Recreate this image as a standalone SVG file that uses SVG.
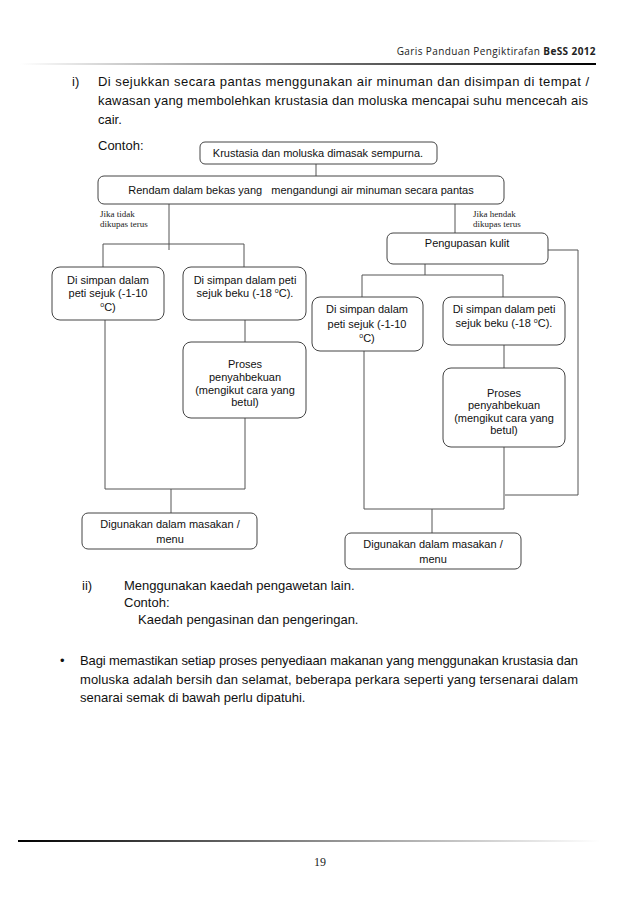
<svg xmlns="http://www.w3.org/2000/svg" width="639" height="903" viewBox="0 0 639 903">
<defs>
<linearGradient id="hdr" x1="0" y1="0" x2="1" y2="0">
<stop offset="0" stop-color="#ffffff"/>
<stop offset="0.3" stop-color="#aaaaaa"/>
<stop offset="1" stop-color="#000000"/>
</linearGradient>
<linearGradient id="ftr" x1="0" y1="0" x2="1" y2="0">
<stop offset="0" stop-color="#000000"/>
<stop offset="0.5" stop-color="#888888"/>
<stop offset="1" stop-color="#ffffff"/>
</linearGradient>
<style>
.box{fill:#ffffff;stroke:#444444;stroke-width:1}
.bt{font-family:"Liberation Sans",Arial,sans-serif;font-size:11px;fill:#111111;text-anchor:middle}
.p{font-family:"Liberation Sans",Arial,sans-serif;font-size:13px;fill:#111111}
.lbl{font-family:"Liberation Serif","DejaVu Serif",serif;font-size:9px;fill:#222222}
.con{fill:none;stroke:#555555;stroke-width:1}
</style>
</defs>
<rect x="0" y="0" width="639" height="903" fill="#ffffff"/>

<!-- header -->
<text x="596" y="55" text-anchor="end" font-family="'Open Sans','Noto Sans',sans-serif" font-size="10" letter-spacing="0.4" fill="#222222">Garis Panduan Pengiktirafan <tspan font-weight="bold">BeSS 2012</tspan></text>
<rect x="20" y="63" width="576" height="2" fill="url(#hdr)"/>

<!-- paragraph i -->
<text class="p" x="72" y="86">i)</text>
<text class="p" x="98" y="86" textLength="491" lengthAdjust="spacing">Di sejukkan secara pantas menggunakan air minuman dan disimpan di tempat /</text>
<text class="p" x="98" y="105" textLength="490" lengthAdjust="spacing">kawasan yang membolehkan krustasia dan moluska mencapai suhu mencecah ais</text>
<text class="p" x="98" y="124">cair.</text>
<text class="p" x="98" y="150">Contoh:</text>

<!-- connectors -->
<g id="connectors" class="con">
<path d="M316,164 V176"/>
<path d="M169,204 V250 M103,244 H244 M103,244 V267 M244,244 V267"/>
<path d="M455,204 V233"/>
<path d="M425,264 V275 M362,275 H503 M362,275 V297 M503,275 V297"/>
<path d="M548,250 H578 V495 H505"/>
<path d="M105,320 V489 M245,320 V342 M245,418 V489 M105,489 H245 M171,489 V513"/>
<path d="M364,351 V509 M504,345 V368 M504,447 V509 M364,509 H504 M432,509 V533"/>
</g>

<g id="n-krustasia">
<rect class="box" x="200" y="142" width="237" height="22" rx="5"/>
<text class="bt" x="318" y="157">Krustasia dan moluska dimasak sempurna.</text>
</g>

<g id="n-rendam">
<rect class="box" x="98" y="176" width="406" height="28" rx="6"/>
<text class="bt" x="301" y="194" style="white-space:pre">Rendam dalam bekas yang   mengandungi air minuman secara pantas</text>
</g>

<g id="lbl-tidak">
<text class="lbl" x="100" y="217">Jika tidak</text>
<text class="lbl" x="100" y="227">dikupas terus</text>
</g>
<g id="lbl-hendak">
<text class="lbl" x="473" y="217">Jika hendak</text>
<text class="lbl" x="473" y="227">dikupas terus</text>
</g>

<g id="n-pengupasan">
<rect class="box" x="387" y="233" width="161" height="31" rx="6"/>
<text class="bt" x="467" y="247">Pengupasan kulit</text>
</g>

<g id="n-l1">
<rect class="box" x="52" y="267" width="112" height="53" rx="8"/>
<text class="bt" x="108" y="284">Di simpan dalam</text>
<text class="bt" x="108" y="297">peti sejuk (-1-10</text>
<text class="bt" x="108" y="311"><tspan font-size="7" dy="-4">o</tspan><tspan dy="4">C)</tspan></text>
</g>

<g id="n-l2">
<rect class="box" x="183" y="267" width="123" height="53" rx="8"/>
<text class="bt" x="245" y="284">Di simpan dalam peti</text>
<text class="bt" x="245" y="297">sejuk beku (-18 <tspan font-size="7" dy="-4">o</tspan><tspan dy="4">C).</tspan></text>
</g>

<g id="n-r1">
<rect class="box" x="312" y="297" width="111" height="54" rx="8"/>
<text class="bt" x="367" y="313">Di simpan dalam</text>
<text class="bt" x="367" y="328">peti sejuk (-1-10</text>
<text class="bt" x="367" y="342"><tspan font-size="7" dy="-4">o</tspan><tspan dy="4">C)</tspan></text>
</g>

<g id="n-r2">
<rect class="box" x="443" y="297" width="122" height="48" rx="8"/>
<text class="bt" x="504" y="313">Di simpan dalam peti</text>
<text class="bt" x="504" y="327">sejuk beku (-18 <tspan font-size="7" dy="-4">o</tspan><tspan dy="4">C).</tspan></text>
</g>

<g id="n-proses-l">
<rect class="box" x="183" y="342" width="123" height="76" rx="8"/>
<text class="bt" x="245" y="368">Proses</text>
<text class="bt" x="245" y="381">penyahbekuan</text>
<text class="bt" x="245" y="394">(mengikut cara yang</text>
<text class="bt" x="245" y="406">betul)</text>
</g>

<g id="n-proses-r">
<rect class="box" x="443" y="368" width="122" height="79" rx="8"/>
<text class="bt" x="504" y="397">Proses</text>
<text class="bt" x="504" y="409">penyahbekuan</text>
<text class="bt" x="504" y="422">(mengikut cara yang</text>
<text class="bt" x="504" y="434">betul)</text>
</g>

<g id="n-digunakan-l">
<rect class="box" x="82" y="513" width="175" height="36" rx="6"/>
<text class="bt" x="170" y="528">Digunakan dalam masakan /</text>
<text class="bt" x="170" y="543">menu</text>
</g>

<g id="n-digunakan-r">
<rect class="box" x="345" y="533" width="176" height="36" rx="6"/>
<text class="bt" x="433" y="548">Digunakan dalam masakan /</text>
<text class="bt" x="433" y="563">menu</text>
</g>

<!-- paragraph ii -->
<text class="p" x="82" y="590">ii)</text>
<text class="p" x="124" y="590">Menggunakan kaedah pengawetan lain.</text>
<text class="p" x="124" y="607">Contoh:</text>
<text class="p" x="138" y="624">Kaedah pengasinan dan pengeringan.</text>

<!-- bullet paragraph -->
<text class="p" x="60" y="665">•</text>
<text class="p" x="80" y="665" textLength="498" lengthAdjust="spacing">Bagi memastikan setiap proses penyediaan makanan yang menggunakan krustasia dan</text>
<text class="p" x="80" y="684" textLength="498" lengthAdjust="spacing">moluska adalah bersih dan selamat, beberapa perkara seperti yang tersenarai dalam</text>
<text class="p" x="80" y="702">senarai semak di bawah perlu dipatuhi.</text>

<!-- footer -->
<rect x="18" y="840" width="582" height="2" fill="url(#ftr)"/>
<text x="320" y="866" text-anchor="middle" font-family="'Liberation Serif',serif" font-size="12" fill="#222222">19</text>
</svg>
